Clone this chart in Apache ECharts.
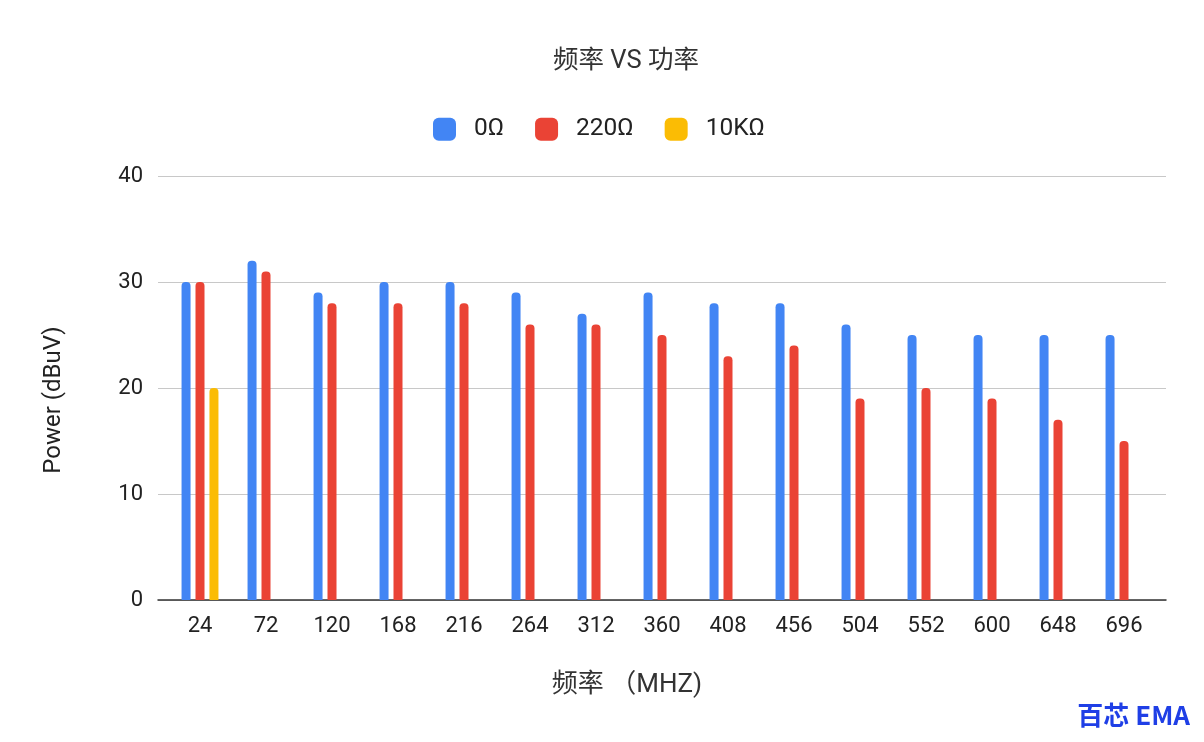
<!DOCTYPE html>
<html>
<head>
<meta charset="utf-8">
<script src="https://cdn.jsdelivr.net/npm/echarts@6/dist/echarts.min.js"></script>
<style>html,body{margin:0;padding:0;background:#fff}#c{width:1204px;height:742px}</style>
</head>
<body>
<div id="c"></div>
<script>
const categories = ['24','72','120','168','216','264','312','360','408','456','504','552','600','648','696'];
const ohm0 = [30,32,29,30,30,29,27,29,28,28,26,25,25,25,25];
const ohm220 = [30,31,28,28,28,26,26,25,23,24,19,20,19,17,15];
const ohm10k = [20,null,null,null,null,null,null,null,null,null,null,null,null,null,null];
const yTicks = [0,10,20,30,40];

const FONT = 'Roboto, "Noto Sans CJK SC", sans-serif';
const chart = echarts.init(document.getElementById('c'));
const barBase = { type: 'bar', xAxisIndex: 1, yAxisIndex: 1, barWidth: 9, barGap: '55%' };
chart.setOption({
  backgroundColor: '#fff',
  animation: false,
  title: {
    text: '频率 VS 功率', left: 548, top: 44,
    textStyle: { fontFamily: FONT, fontSize: 25.5, fontWeight: 'normal', color: '#333' }
  },
  legend: {
    top: 112, left: 428, itemWidth: 23, itemHeight: 23, itemGap: 31,
    icon: 'roundRect',
    textStyle: { fontFamily: FONT, fontSize: 24.5, color: '#222', padding: [0,0,0,13] },
    data: ['0Ω','220Ω','10KΩ']
  },
  grid: [
    { left: 158, right: 38, top: 176, bottom: 142 },
    { left: 167, right: 47, top: 176, bottom: 142 }
  ],
  xAxis: [
    { type: 'category', gridIndex: 0, data: categories,
      axisLine: { show: true, lineStyle: { color: '#333', width: 1.5 } },
      axisTick: { show: false }, axisLabel: { show: false }, splitLine: { show: false } },
    { type: 'category', gridIndex: 1, data: categories,
      axisLine: { show: false }, axisTick: { show: false },
      axisLabel: { fontFamily: FONT, fontSize: 22, color: '#222', margin: 15 },
      name: '频率 （MHZ)', nameLocation: 'middle', nameGap: 72,
      nameTextStyle: { fontFamily: FONT, fontSize: 26, color: '#333', padding: [0, 70, 0, 0] } }
  ],
  yAxis: [
    { type: 'value', gridIndex: 0, min: 0, max: 40, interval: 10,
      axisLine: { show: false }, axisTick: { show: false },
      axisLabel: { fontFamily: FONT, fontSize: 22, color: '#222', margin: 15,
        formatter: v => yTicks.includes(v) ? String(v) : '' },
      splitLine: { lineStyle: { color: '#c8c8c8', width: 1 } },
      name: 'Power (dBuV)', nameLocation: 'middle', nameGap: 92,
      nameTextStyle: { fontFamily: FONT, fontSize: 24, color: '#222', padding: [0, 24, 0, 0] } },
    { type: 'value', gridIndex: 1, min: 0, max: 40, interval: 10, show: false,
      splitLine: { show: false } }
  ],
  series: [
    Object.assign({ name: '0Ω', data: ohm0, itemStyle: { color: '#4285F4', borderRadius: [4,4,0,0] } }, barBase),
    Object.assign({ name: '220Ω', data: ohm220, itemStyle: { color: '#EA4335', borderRadius: [4,4,0,0] } }, barBase),
    Object.assign({ name: '10KΩ', data: ohm10k, itemStyle: { color: '#FBBC04', borderRadius: [4,4,0,0] } }, barBase)
  ],
  graphic: [
    { type: 'text', right: 14, top: 702,
      style: { text: '百芯 EMA', fontFamily: '"Noto Sans CJK SC", sans-serif', fontWeight: 'bold', fontSize: 26, fill: '#1f3fe6' } }
  ]
});
</script>
</body>
</html>
